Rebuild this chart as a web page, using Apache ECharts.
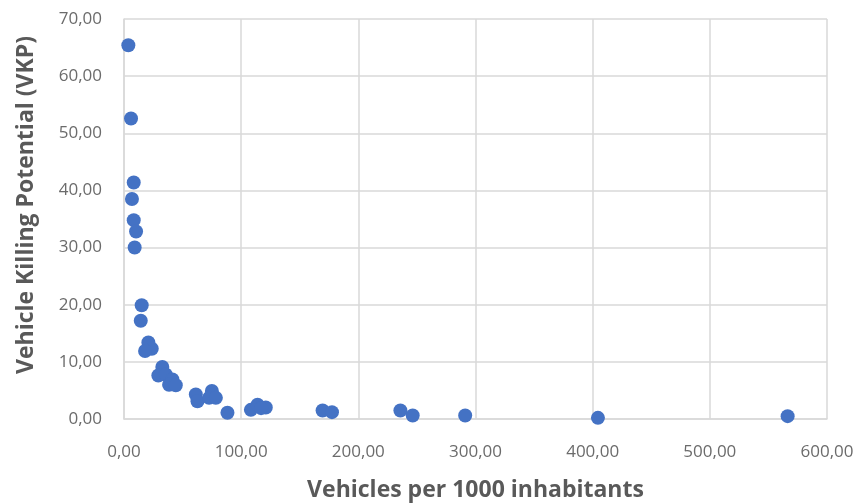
<!DOCTYPE html>
<html>
<head>
<meta charset="utf-8">
<script src="https://cdn.jsdelivr.net/npm/echarts@6/dist/echarts.min.js"></script>
<style>
  html, body { margin: 0; padding: 0; background: #fff; }
  #chart { width: 865px; height: 503px; }
</style>
</head>
<body>
<div id="chart"></div>
<script>
// Vehicles per 1000 inhabitants (x) and Vehicle Killing Potential (y), one entry per country
const vehiclesPer1000 = [
  3.7, 6.0, 8.3, 6.8, 8.3, 10.3, 9.1,
  15.1, 14.3, 20.8, 23.7, 18.0,
  32.7, 29.3, 35.6, 41.3, 38.5, 44.2,
  61.3, 62.7, 75.0, 72.6, 78.4, 88.3,
  108.3, 114.0, 121.0, 117.0,
  169.5, 177.5, 235.9, 246.4, 291.2, 404.5, 566.4
];
const vkp = [
  65.4, 52.6, 41.4, 38.5, 34.8, 32.8, 30.0,
  19.9, 17.2, 13.4, 12.3, 11.9,
  9.1, 7.6, 7.8, 6.9, 6.0, 5.9,
  4.3, 3.1, 4.9, 3.7, 3.7, 1.1,
  1.6, 2.5, 2.0, 1.9,
  1.5, 1.2, 1.5, 0.6, 0.6, 0.2, 0.5
];

const xTitle = 'Vehicles per 1000 inhabitants';
const yTitle = 'Vehicle Killing Potential (VKP)';

const points = vehiclesPer1000.map((x, i) => [x, vkp[i]]);
const fmt = v => v.toFixed(2).replace('.', ',');

const gridLine = { show: true, lineStyle: { color: '#d9d9d9', width: 1.5 } };
const labelStyle = { color: '#6b6b6b', fontSize: 17, fontFamily: 'Open Sans' };
const titleStyle = { color: '#595959', fontSize: 23, fontWeight: 'bold', fontFamily: 'Open Sans' };

const chart = echarts.init(document.getElementById('chart'));
chart.setOption({
  animation: false,
  grid: { left: 124, right: 38, top: 19, bottom: 84, outerBoundsMode: 'none', containLabel: false },
  xAxis: {
    type: 'value', min: 0, max: 600, interval: 100,
    name: xTitle, nameLocation: 'middle', nameGap: 60, nameTextStyle: titleStyle,
    axisLine: { show: true, lineStyle: { color: '#d9d9d9', width: 1.5 } },
    axisTick: { show: false },
    axisLabel: Object.assign({ formatter: fmt, margin: 25 }, labelStyle),
    splitLine: gridLine
  },
  yAxis: {
    type: 'value', min: 0, max: 70, interval: 10,
    name: yTitle, nameLocation: 'middle', nameGap: 86,
    nameTextStyle: Object.assign({ padding: [0, 0, 0, 28] }, titleStyle),
    axisLine: { show: true, lineStyle: { color: '#d9d9d9', width: 1.5 } },
    axisTick: { show: false },
    axisLabel: Object.assign({ formatter: fmt, margin: 22 }, labelStyle),
    splitLine: gridLine
  },
  series: [{
    type: 'scatter',
    data: points,
    symbolSize: 14,
    itemStyle: { color: '#4472c4', opacity: 1 }
  }]
});
</script>
</body>
</html>
